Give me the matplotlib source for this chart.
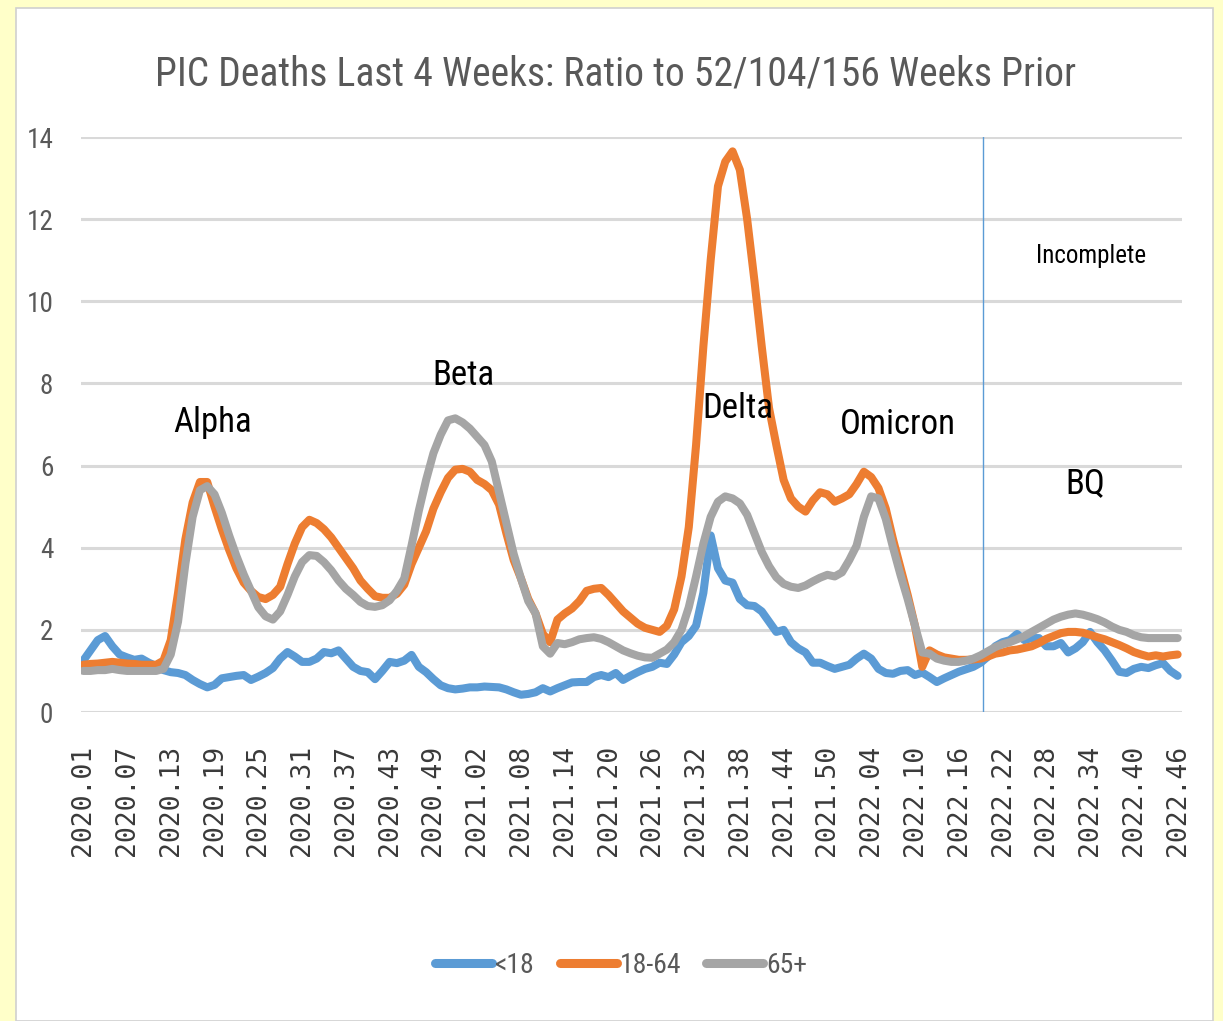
import matplotlib
matplotlib.use("Agg")
import matplotlib.pyplot as plt
from matplotlib import font_manager
from matplotlib.patches import Rectangle

# ---- data -------------------------------------------------------------
weeks_2020 = [f"2020.{w:02d}" for w in range(1, 54)]
weeks_2021 = [f"2021.{w:02d}" for w in range(1, 53)]
weeks_2022 = [f"2022.{w:02d}" for w in range(1, 47)]
week_labels = weeks_2020 + weeks_2021 + weeks_2022

under18 = [
    1.25, 1.5, 1.75, 1.85, 1.6, 1.4, 1.33, 1.27, 1.3, 1.2,
    1.12, 1.02, 0.97, 0.95, 0.9, 0.78, 0.68, 0.6, 0.66, 0.82,
    0.85, 0.88, 0.9, 0.78, 0.86, 0.95, 1.07, 1.3, 1.46, 1.35,
    1.22, 1.22, 1.3, 1.46, 1.43, 1.5, 1.3, 1.1, 1.0, 0.97,
    0.8, 1.0, 1.22, 1.19, 1.25, 1.39, 1.1, 0.97, 0.8, 0.65,
    0.58, 0.55, 0.57, 0.6, 0.6, 0.62, 0.61, 0.6, 0.55, 0.48,
    0.42, 0.44, 0.48, 0.58, 0.5, 0.58, 0.65, 0.72, 0.73, 0.73,
    0.85, 0.9, 0.85, 0.95, 0.78, 0.88, 0.97, 1.05, 1.1, 1.2,
    1.17, 1.4, 1.7, 1.85, 2.1, 2.9, 4.3, 3.5, 3.2, 3.15,
    2.75, 2.6, 2.58, 2.45, 2.2, 1.95, 2.0, 1.7, 1.55, 1.45,
    1.2, 1.2, 1.12, 1.05, 1.1, 1.15, 1.3, 1.42, 1.3, 1.05,
    0.95, 0.93, 1.0, 1.02, 0.9, 0.96, 0.85, 0.73, 0.82, 0.9,
    0.98, 1.04, 1.1, 1.2, 1.35, 1.6, 1.7, 1.75, 1.9, 1.75,
    1.8, 1.8, 1.6, 1.6, 1.68, 1.45, 1.55, 1.7, 1.95, 1.7,
    1.5, 1.25, 0.98, 0.95, 1.05, 1.1, 1.07, 1.14, 1.19, 1.0,
    0.88,
]

age18_64 = [
    1.15, 1.17, 1.18, 1.2, 1.22, 1.2, 1.18, 1.17, 1.15, 1.15,
    1.15, 1.25, 1.75, 2.9, 4.2, 5.1, 5.6, 5.6, 5.0, 4.45,
    3.95, 3.5, 3.15, 2.95, 2.8, 2.75, 2.85, 3.05, 3.6, 4.1,
    4.5, 4.68, 4.6, 4.45, 4.25, 4.0, 3.75, 3.5, 3.2, 3.0,
    2.82, 2.78, 2.78, 2.88, 3.1, 3.6, 4.0, 4.4, 4.95, 5.35,
    5.7, 5.9, 5.92, 5.85, 5.65, 5.55, 5.4, 5.05, 4.35, 3.7,
    3.25, 2.75, 2.4, 1.9, 1.7, 2.25, 2.4, 2.52, 2.7, 2.95,
    3.0, 3.02, 2.85, 2.65, 2.45, 2.3, 2.15, 2.05, 2.0, 1.95,
    2.1, 2.5, 3.3, 4.5, 6.5, 8.9, 11.0, 12.8, 13.4, 13.65,
    13.2, 12.0, 10.5, 8.9, 7.4, 6.5, 5.65, 5.2, 5.0, 4.88,
    5.15, 5.35, 5.3, 5.12, 5.2, 5.3, 5.55, 5.85, 5.72, 5.45,
    4.95, 4.2, 3.53, 2.85, 2.1, 1.1, 1.5, 1.4, 1.33, 1.3,
    1.27, 1.27, 1.28, 1.3, 1.35, 1.42, 1.45, 1.5, 1.52, 1.56,
    1.6, 1.68, 1.78, 1.85, 1.92, 1.95, 1.95, 1.93, 1.88, 1.82,
    1.77, 1.7, 1.63, 1.55, 1.46, 1.4, 1.35, 1.38, 1.35, 1.38,
    1.4,
]

age65plus = [
    1.0, 1.0, 1.02, 1.02, 1.05, 1.02, 1.0, 1.0, 1.0, 1.0,
    1.0, 1.05, 1.4, 2.2, 3.6, 4.75, 5.4, 5.5, 5.3, 4.85,
    4.3, 3.8, 3.35, 2.95, 2.55, 2.33, 2.25, 2.45, 2.85, 3.3,
    3.65, 3.82, 3.8, 3.65, 3.45, 3.2, 3.0, 2.85, 2.68, 2.58,
    2.56, 2.6, 2.72, 2.95, 3.25, 4.05, 4.9, 5.65, 6.3, 6.75,
    7.1, 7.15, 7.05, 6.9, 6.7, 6.5, 6.1, 5.35, 4.6, 3.85,
    3.25, 2.7, 2.4, 1.6, 1.42, 1.68, 1.65, 1.7, 1.77, 1.8,
    1.82, 1.78, 1.7, 1.6, 1.5, 1.43, 1.37, 1.33, 1.32, 1.42,
    1.52, 1.7, 2.0, 2.55, 3.3, 4.1, 4.75, 5.12, 5.25, 5.2,
    5.08, 4.8, 4.35, 3.9, 3.55, 3.28, 3.12, 3.05, 3.02, 3.08,
    3.18, 3.27, 3.34, 3.3, 3.4, 3.7, 4.05, 4.75, 5.25, 5.2,
    4.7, 4.0, 3.35, 2.75, 2.1, 1.45, 1.42, 1.3, 1.25, 1.22,
    1.22, 1.25, 1.3, 1.38, 1.48, 1.58, 1.65, 1.7, 1.77, 1.85,
    1.95, 2.05, 2.15, 2.25, 2.32, 2.37, 2.4, 2.37, 2.32, 2.26,
    2.18, 2.08, 2.0, 1.95, 1.87, 1.82, 1.8, 1.8, 1.8, 1.8,
    1.8,
]

series_names = ["<18", "18-64", "65+"]
series_colors = ["#5B9BD5", "#ED7D31", "#A5A5A5"]
y_ticks = [0, 2, 4, 6, 8, 10, 12, 14]
title = "PIC Deaths Last 4 Weeks: Ratio to 52/104/156 Weeks Prior"
wave_labels = ["Alpha", "Beta", "Delta", "Omicron", "BQ"]

# ---- pick a narrow font if one is installed ----------------------------
def pick_narrow():
    entries = font_manager.fontManager.ttflist
    for key in ["Liberation Sans Narrow", "Roboto Condensed", "Open Sans Condensed",
                "Noto Sans Condensed", "DejaVu Sans Condensed"]:
        for f in entries:
            if f.name == key:
                return dict(family=f.name, stretch="normal")
    for f in entries:
        if f.name == "DejaVu Sans" and f.stretch == "condensed":
            return dict(family="DejaVu Sans", stretch="condensed")
    for f in entries:
        if f.name in ("Roboto", "Noto Sans", "Open Sans") and f.stretch == "condensed":
            return dict(family=f.name, stretch="condensed")
    return dict(family="Liberation Sans", stretch="normal")

NF = pick_narrow()
NARROW = [NF["family"], "DejaVu Sans"]
STRETCH = NF["stretch"]

# ---- figure -----------------------------------------------------------
fig = plt.figure(figsize=(12.23, 10.21), dpi=100)
fig.patch.set_facecolor("#FFFFC9")
panel = Rectangle((16 / 1223, 0), (1213 - 16) / 1223, 1 - 8 / 1021,
                  transform=fig.transFigure, facecolor="white",
                  edgecolor="#D0D0D0", linewidth=1.2, zorder=-10)
fig.patches.append(panel)

ax = fig.add_axes([81 / 1223, 1 - 712 / 1021, (1182 - 81) / 1223, (712 - 137) / 1021])
ax.set_facecolor("none")
ax.set_zorder(1)

x = list(range(len(week_labels)))
for vals, name, col in zip([under18, age18_64, age65plus], series_names, series_colors):
    ax.plot(x, vals, color=col, lw=5.8, label=name, solid_capstyle="round",
            solid_joinstyle="round", zorder=3)

ax.set_xlim(-0.3, len(week_labels) - 1 + 0.6)
ax.set_ylim(0, 14)
ax.set_yticks(y_ticks)
ax.grid(axis="y", color="#D9D9D9", lw=2.2)
ax.set_axisbelow(True)
for s in ax.spines.values():
    s.set_visible(False)
ax.tick_params(axis="both", length=0)
ax.tick_params(axis="y", pad=20)
for lab in ax.get_yticklabels():
    lab.set_fontfamily(NARROW)
    lab.set_fontstretch(STRETCH)
    lab.set_fontsize(19.5)
    lab.set_color("#595959")

tick_idx = list(range(0, len(week_labels), 6))
ax.set_xticks(tick_idx)
ax.set_xticklabels([week_labels[i] for i in tick_idx], rotation=90,
                   fontfamily="DejaVu Sans Mono", fontsize=19, color="#3A3A3A")
ax.tick_params(axis="x", pad=24)

# incomplete-data marker
ax.axvline(123.3, color="#5B9BD5", lw=1.0, zorder=2)

fig.text(616 / 1223, 1 - 74 / 1021, title, ha="center", va="center",
         fontsize=28.5, color="#595959", family=NARROW, stretch=STRETCH)

# wave annotations
ann_pos = [(17.7, 7.06), (52.1, 8.19), (89.7, 7.4), (111.7, 7.0), (137.4, 5.55)]
for lab, (px, py) in zip(wave_labels, ann_pos):
    ax.text(px, py, lab, ha="center", va="center", fontsize=25, color="black",
            family=NARROW, stretch=STRETCH, zorder=4)
ax.text(138.1, 11.1, "Incomplete", ha="center", va="center", fontsize=18,
        color="black", family=NARROW, stretch=STRETCH, zorder=4)

leg = fig.legend(loc="center", bbox_to_anchor=(621 / 1223, 1 - 965 / 1021), ncol=3,
                 frameon=False, handlelength=2.05, handletextpad=0.1,
                 columnspacing=0.9,
                 prop={"family": NARROW, "size": 20, "stretch": STRETCH})
for t in leg.get_texts():
    t.set_color("#595959")
for h in leg.get_lines():
    h.set_linewidth(6.5)

fig.savefig("out.png", dpi=100, facecolor=fig.get_facecolor())
